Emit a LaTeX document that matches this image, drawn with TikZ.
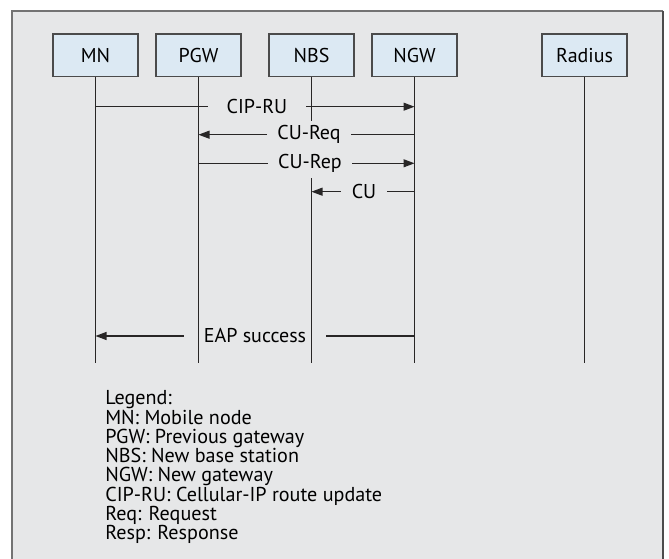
\documentclass[tikz,border=0pt]{standalone}
\usepackage{fontspec}
\setmainfont{PT Sans}
\usetikzlibrary{arrows.meta}
\definecolor{panel}{RGB}{230,231,232}
\definecolor{boxfill}{RGB}{220,233,243}
\definecolor{boxline}{RGB}{75,75,75}
\definecolor{ink}{RGB}{40,38,38}
\begin{document}
\begin{tikzpicture}[x=0.75pt,y=-0.75pt,
  actor/.style={draw=boxline, fill=boxfill, line width=0.9pt,
    minimum width=63.75pt, minimum height=32pt, inner sep=0pt,
    font=\fontsize{15}{18}\selectfont},
  lifeline/.style={draw=ink, line width=0.8pt},
  msg/.style={inner ysep=0pt, font=\fontsize{15}{18}\selectfont},
  arr/.style={-{Triangle[length=8.25pt,width=6pt]}},
  legendtext/.style={anchor=north west, inner sep=0pt, align=left,
    font=\fontsize{15.1}{14.45}\selectfont}]
  % page and panel
  \useasboundingbox (0,0) rectangle (669,559);
  \fill[white] (0,0) rectangle (669,559);
  \fill[panel] (12,11) rectangle (663,559);
  \draw[gray!90!black, line width=0.8pt] (12,559) -- (12,11) -- (663,11);
  \draw[gray!60!black, line width=1.6pt] (663,11) -- (663,559);

  % participants
  \node[actor] (mn)  at (95.5,55.3)  {MN};
  \node[actor] (pgw) at (198.5,55.3) {PGW};
  \node[actor] (nbs) at (311.5,55.3) {NBS};
  \node[actor] (ngw) at (414.5,55.3) {NGW};
  \node[actor] (rad) at (584.5,55.3) {Radius};

  % bottom of the lifelines and the break in the NBS lifeline
  \coordinate (bot) at (0,363);
  \coordinate (nbsgap1) at (0,121);
  \coordinate (nbsgap2) at (0,178.3);

  % lifelines
  \draw[lifeline] (mn.south)  -- (mn.south |- bot);
  \draw[lifeline] (pgw.south) -- (pgw.south |- bot);
  \draw[lifeline] (nbs.south) -- (nbs.south |- nbsgap1);
  \draw[lifeline] (nbs.south |- nbsgap2) -- (nbs.south |- bot);
  \draw[lifeline] (ngw.south) -- (ngw.south |- bot);
  \draw[lifeline] (rad.south) -- (rad.south |- bot);

  % messages
  \node[msg, inner xsep=14pt] (cip) at (257,106.7) {CIP-RU};
  \draw[lifeline] (mn.south |- cip) -- (cip.west);
  \draw[lifeline, arr] (cip.east) -- (ngw.south |- cip);

  \node[msg, inner xsep=7.5pt] (creq) at (309,134.7) {CU-Req};
  \draw[lifeline] (ngw.south |- creq) -- (creq.east);
  \draw[lifeline, arr] (creq.west) -- (pgw.south |- creq);

  \node[msg, inner xsep=7.5pt] (crep) at (310,163.3) {CU-Rep};
  \draw[lifeline] (pgw.south |- crep) -- (crep.west);
  \draw[lifeline, arr] (crep.east) -- (ngw.south |- crep);

  \node[msg, inner xsep=8pt] (cu) at (364,191.7) {CU};
  \draw[lifeline] (ngw.south |- cu) -- (cu.east);
  \draw[lifeline, arr] (cu.west) -- (nbs.south |- cu);

  \node[msg, inner xsep=15pt] (eap) at (255,336) {EAP success};
  \draw[lifeline] (ngw.south |- eap) -- (eap.east);
  \draw[lifeline, arr] (eap.west) -- (mn.south |- eap);

  % legend
  \node[legendtext] (legend) at (105,390.5) {Legend:\\
    MN: Mobile node\\
    PGW: Previous gateway\\
    NBS: New base station\\
    NGW: New gateway\\
    CIP-RU: Cellular-IP route update\\
    Req: Request\\
    Resp: Response};
\end{tikzpicture}
\end{document}
